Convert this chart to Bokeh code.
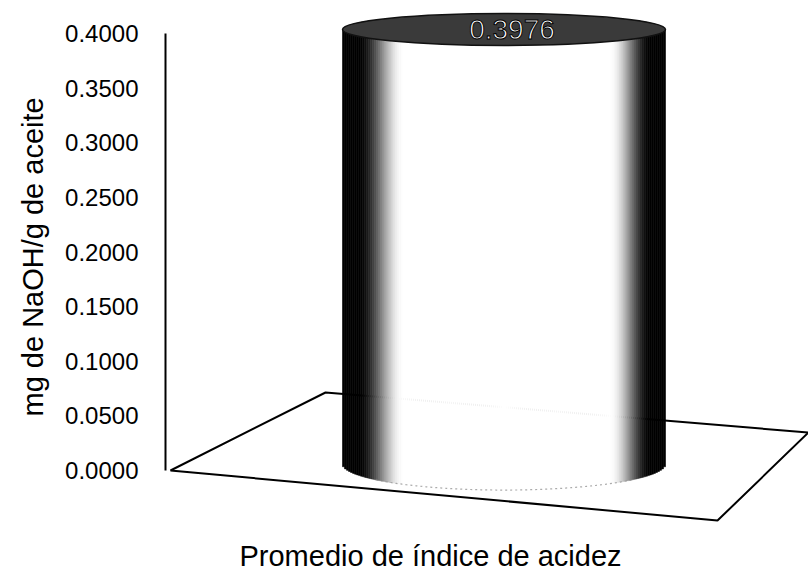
import numpy as np
from bokeh.plotting import figure
from bokeh.models import (Range1d, LinearAxis, FixedTicker, PrintfTickFormatter,
                          ColumnDataSource, Label, Title)
from bokeh.embed import file_html
from bokeh.resources import INLINE
from bokeh.core.properties import value

# ---------------- data ----------------
categories = ["Promedio de índice de acidez"]
values = [0.3976]
y_ticks = [0.0, 0.05, 0.10, 0.15, 0.20, 0.25, 0.30, 0.35, 0.40]
y_title = "mg de NaOH/g de aceite"
x_title = "Promedio de índice de acidez"

# ---------------- layout ----------------
W, H = 808, 574
FRAME_LEFT = 165           # px from figure left to the value axis
PX_Y = 1092.5              # px per data unit (y)
PX_X = 323.0               # px per category slot (x) = cylinder diameter
ZERO_Y_PX = 470.0          # figure px of y = 0 (from top)
BAR_CENTER_PX = 503.5      # figure px of the cylinder axis

y_hi = ZERO_Y_PX / PX_Y
y_lo = y_hi - H / PX_Y
bar_x = 1.0
x_lo = bar_x - (BAR_CENTER_PX - FRAME_LEFT) / PX_X
x_hi = x_lo + (W - FRAME_LEFT) / PX_X

FONT = "Liberation Sans"

p = figure(width=W, height=H, x_range=Range1d(x_lo, x_hi), y_range=Range1d(y_lo, y_hi),
           x_axis_type=None, y_axis_type=None, toolbar_location=None,
           output_backend="svg", min_border_left=FRAME_LEFT, min_border_right=0,
           min_border_top=0, min_border_bottom=0, outline_line_color=None,
           background_fill_color="white", border_fill_color="white")

# ---------------- 3D floor (decoration) ----------------
floor_x = [-0.0325, 0.4474, 1.9427, 1.661]
floor_y = [0.0, 0.0714, 0.0348, -0.0458]
p.patch(floor_x, floor_y, fill_color="white", line_color="black", line_width=2)

# ---------------- cylinder ----------------
depth_off = 0.0061          # cylinder sits slightly in front of the value wall
bottom_half = 0.024         # half height of bottom ellipse (data units)
top_h = 0.0293              # full height of top ellipse (data units)
diam = 1.0                  # cylinder diameter in category units

N = 160
edges = np.linspace(-diam / 2, diam / 2, N + 1)
mids = (edges[:-1] + edges[1:]) / 2
u = mids / (diam / 2)
t = (u + 1) / 2


def lum(tt):
    if tt < 0.05:
        return 0.0
    if tt < 0.19:
        s = (tt - 0.05) / 0.14
        return s * s * (3 - 2 * s)
    if tt < 0.83:
        return 1.0
    if tt < 0.955:
        s = (tt - 0.83) / 0.125
        return 1 - s * s * (3 - 2 * s)
    return 0.0


for cat, v in zip(categories, values):
    cols = []
    for tt in t:
        g = int(round(255 * lum(tt)))
        cols.append("#%02x%02x%02x" % (g, g, g))
    bottoms = depth_off - bottom_half * np.sqrt(np.clip(1 - u ** 2, 0, 1))
    tops = np.full(N, v + depth_off)
    src = ColumnDataSource(dict(left=bar_x + edges[:-1], right=bar_x + edges[1:],
                                bottom=bottoms, top=tops, color=cols))
    p.quad(left="left", right="right", bottom="bottom", top="top", source=src,
           fill_color="color", line_color="color", line_width=0.6)
    # faint front bottom edge
    m = np.abs(u) < 0.8
    p.line(bar_x + mids[m], bottoms[m], line_color="#888888", line_dash="2 3",
           line_width=1.2, line_alpha=0.7)
    # top face
    p.ellipse(x=[bar_x], y=[v + depth_off], width=diam, height=top_h,
              fill_color="#3a3a3a", line_color="#111111", line_width=1.5)
    # value label
    p.text(x=[bar_x], y=[v + depth_off], text=["%.4f" % v], x_offset=8,
           text_color="white", text_outline_color="black",
           text_font=value(FONT), text_font_size="28px",
           text_align="center", text_baseline="middle")

# ---------------- value axis ----------------
yax = LinearAxis(bounds=(0, 0.4), ticker=FixedTicker(ticks=y_ticks),
                 formatter=PrintfTickFormatter(format="%.4f"),
                 major_tick_out=0, major_tick_in=0, minor_tick_out=0, minor_tick_in=0,
                 major_label_standoff=27, major_label_text_font_size="24px",
                 major_label_text_font=FONT, major_label_text_color="black",
                 axis_line_color="black", axis_line_width=2)
p.add_layout(yax, "left")

# ---------------- titles ----------------
p.add_layout(Title(text=y_title, align="left", offset=158, text_font_size="29px",
                   text_font=FONT, text_font_style="normal", text_color="black",
                   standoff=27), "left")
p.add_layout(Label(x=bar_x + (430 - BAR_CENTER_PX) / PX_X, y=(ZERO_Y_PX - 555) / PX_Y,
                   text=x_title, text_align="center", text_baseline="alphabetic",
                   text_font_size="29px", text_font=FONT, text_color="black"))

open("out.html", "w").write(file_html(p, INLINE))
